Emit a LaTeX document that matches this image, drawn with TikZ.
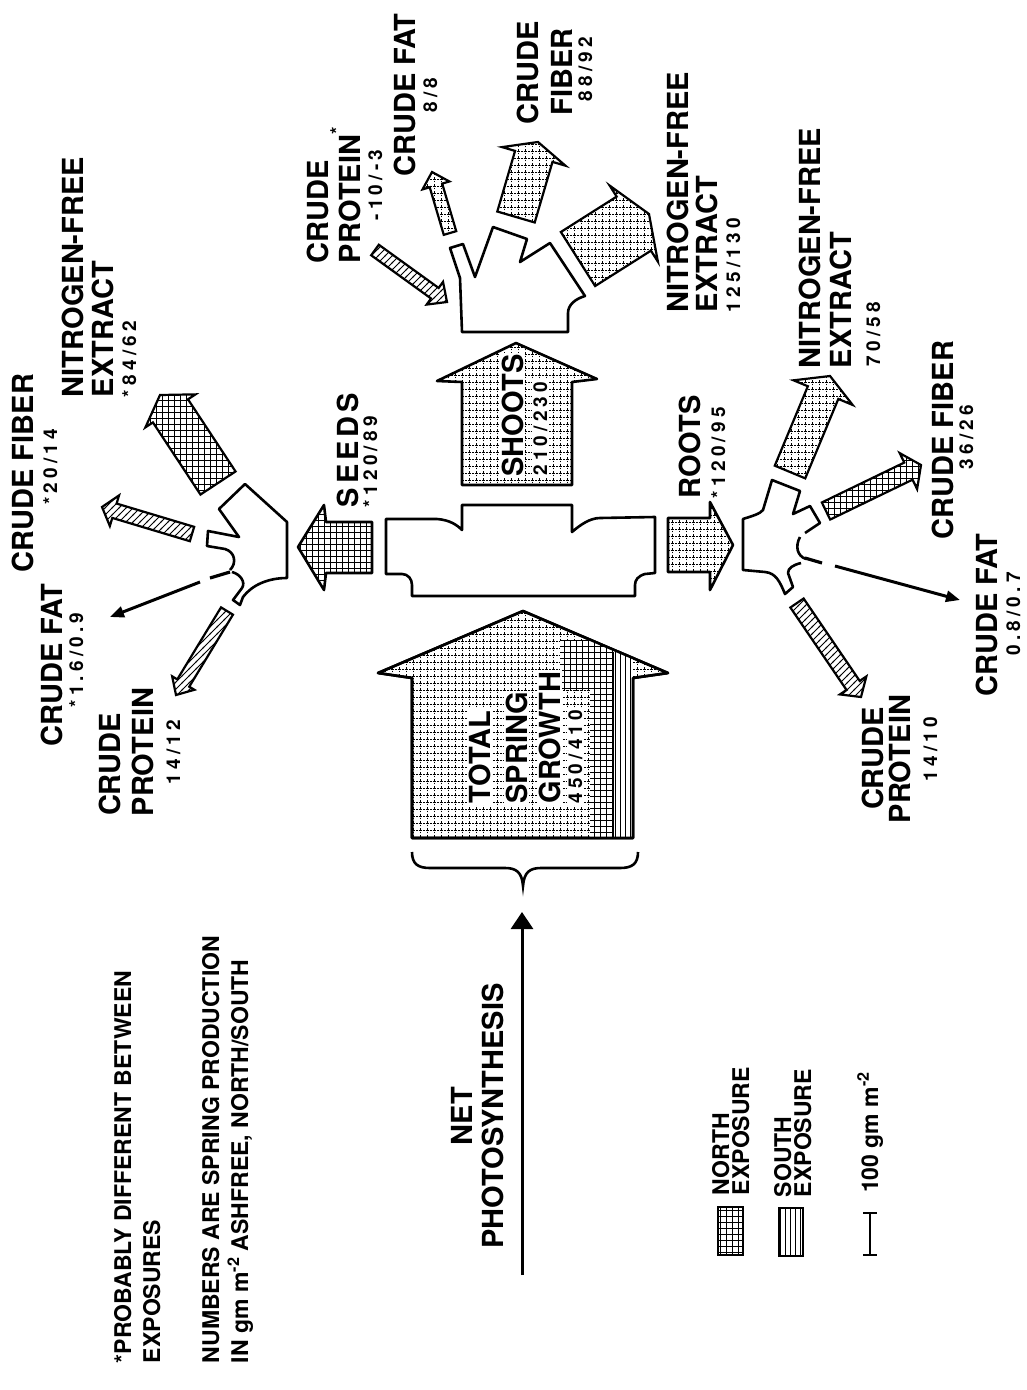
\documentclass[tikz,border=0pt]{standalone}
\usepackage{fontspec}
\setmainfont{TeX Gyre Heros}
\newfontfamily\numfam{TeX Gyre Heros}[LetterSpace=22]
\usetikzlibrary{calc,patterns,arrows.meta}

\pgfdeclarepatternformonly{dotgrid}{\pgfpoint{-2pt}{-2pt}}{\pgfpoint{9pt}{9pt}}{\pgfpoint{7pt}{7pt}}{%
 \pgfsetlinewidth{0.7pt}%
 \pgfpathmoveto{\pgfpoint{-1.5pt}{0pt}}\pgfpathlineto{\pgfpoint{1.5pt}{0pt}}%
 \pgfpathmoveto{\pgfpoint{0pt}{-1.5pt}}\pgfpathlineto{\pgfpoint{0pt}{1.5pt}}%
 \pgfpathmoveto{\pgfpoint{3pt}{0pt}}\pgfpathlineto{\pgfpoint{4.5pt}{0pt}}%
 \pgfpathmoveto{\pgfpoint{0pt}{3.5pt}}\pgfpathlineto{\pgfpoint{0pt}{4.5pt}}%
 \pgfusepath{stroke}}
\pgfdeclarepatternformonly{fgrid}{\pgfpoint{-1pt}{-1pt}}{\pgfpoint{7pt}{7pt}}{\pgfpoint{6pt}{6pt}}{%
 \pgfsetlinewidth{0.8pt}%
 \pgfpathmoveto{\pgfpoint{-1pt}{0pt}}\pgfpathlineto{\pgfpoint{7pt}{0pt}}%
 \pgfpathmoveto{\pgfpoint{0pt}{-1pt}}\pgfpathlineto{\pgfpoint{0pt}{7pt}}%
 \pgfusepath{stroke}}
\pgfdeclarepatternformonly{vlin}{\pgfpoint{-1pt}{-1pt}}{\pgfpoint{1pt}{6pt}}{\pgfpoint{5pt}{5pt}}{%
 \pgfsetlinewidth{0.8pt}\pgfpathmoveto{\pgfpoint{0pt}{-1pt}}\pgfpathlineto{\pgfpoint{0pt}{6pt}}\pgfusepath{stroke}}
\pgfdeclarepatternformonly{diag}{\pgfpoint{-1pt}{-1pt}}{\pgfpoint{8pt}{8pt}}{\pgfpoint{7pt}{7pt}}{%
 \pgfsetlinewidth{0.8pt}\pgfpathmoveto{\pgfpoint{-1pt}{-1pt}}\pgfpathlineto{\pgfpoint{8pt}{8pt}}\pgfusepath{stroke}}

\newcommand\bigf{\fontsize{29}{34}\selectfont\bfseries}
\newcommand\numf{\numfam\fontsize{19}{22}\selectfont\bfseries}
\newcommand\notef{\fontsize{23}{29}\selectfont\bfseries}
\newcommand\legf{\fontsize{23}{20}\selectfont\bfseries}

% #1 name, #2 tail, #3 tip, #4 half shaft width, #5 half head width, #6 head length, #7 pattern
\newcommand\fatarrow[7]{%
 \coordinate (#1t) at (#2);
 \coordinate (#1p) at (#3);
 \coordinate (#1b) at ($(#1p)!#6!(#1t)$);
 \draw[carrow, pattern=#7] ($(#1t)!#4!90:(#1p)$) -- ($(#1b)!#4!90:(#1p)$) -- ($(#1b)!#5!90:(#1p)$) -- (#1p)
   -- ($(#1b)!#5!-90:(#1p)$) -- ($(#1b)!#4!-90:(#1p)$) -- ($(#1t)!#4!-90:(#1p)$) -- cycle;}

\tikzset{
 biglab/.style={rotate=90, inner sep=0pt, outer sep=0pt, font=\bigf},
 numlab/.style={rotate=90, inner sep=0pt, outer sep=0pt, font=\numf},
 notelab/.style={rotate=90, inner sep=0pt, outer sep=0pt, font=\notef, align=left},
 leglab/.style={rotate=90, inner sep=0pt, outer sep=0pt, font=\legf, align=left},
 inlab/.style={fill=white, inner sep=1.5pt},
 outl/.style={line width=2.6pt, line join=round},
 carrow/.style={line width=2.2pt, line join=miter},
 thinarrow/.style={line width=3pt, -{Triangle[length=14pt,width=11pt]}},
}

\begin{document}
\begin{tikzpicture}[x=1pt,y=-1pt]
\useasboundingbox (0,0) rectangle (1026,1390);
\fill[white] (0,0) rectangle (1026,1390);

% ---------- central plant body ----------
\draw[outl] (386,519) -- (437,519) .. controls (450,520) and (457,525) .. (462,530) -- (462,505) -- (572,505)
  -- (572,532) .. controls (580,525) and (590,518) .. (600,518) -- (655,517) -- (655,573) -- (645,574)
  .. controls (638,576) and (635,580) .. (635,585) -- (635,596) -- (412,596) -- (412,585)
  .. controls (412,579) and (408,574) .. (402,574) -- (386,574) -- cycle;

% ---------- total spring growth arrow ----------
\coordinate (tot) at (523,611);
\draw[outl, pattern=dotgrid] (412,838) -- (412,678) -- (378,673) -- (tot) -- (668,673) -- (633,678) -- (633,838) -- cycle;
\begin{scope}
 \clip (412,838) -- (412,678) -- (378,673) -- (523,611) -- (668,673) -- (633,678) -- (633,838) -- cycle;
 \fill[white] (590,650) rectangle (633,840);
 \fill[pattern=fgrid] (590,662) rectangle (613,840);
 \fill[white] (560,640) rectangle (613,690);
 \fill[pattern=fgrid] (560,640) rectangle (613,690);
 \fill[pattern=vlin] (613,650) rectangle (633,840);
\end{scope}
\draw[outl] (412,838) -- (412,678) -- (378,673) -- (tot) -- (668,673) -- (633,678) -- (633,838) -- cycle;
\draw[line width=0.8pt] (613,652) -- (613,838);
\node[biglab, inlab, anchor=base west] (ts1) at (490,805) {TOTAL};
\node[biglab, inlab, anchor=base west] (ts2) at (527,805) {SPRING};
\node[biglab, inlab, anchor=base west] (ts3) at (560,805) {GROWTH};
\node[numlab, inlab, anchor=base west] (ts4) at (582,805) {450/410};

% brace and net photosynthesis
\coordinate (brL) at (412,852); \coordinate (brR) at (638,852); \coordinate (brT) at (523,886);
\draw[line width=2.6pt] (brL) .. controls (412,864) and (418,868) .. (430,868) -- (505,868)
  .. controls (516,868) and (522,872) .. (brT) .. controls (524,872) and (530,868) .. (541,868)
  -- (620,868) .. controls (632,868) and (638,864) .. (brR);
\coordinate (ps0) at (522,1275); \coordinate (ps1) at (522,912);
\draw[line width=3pt, -{Triangle[length=17pt,width=22pt]}] (ps0) -- (ps1);
\node[biglab, anchor=base] (net1) at (472,1116) {NET};
\node[biglab, anchor=base] (net2) at (503,1116) {PHOTOSYNTHESIS};

% ---------- shoots ----------
\coordinate (shtip) at (516,343);
\draw[outl, pattern=dotgrid] (462,485) -- (462,382) -- (437,381) -- (shtip) -- (597,379) -- (572,382) -- (572,485) -- cycle;
\node[biglab, inlab, anchor=base west] (sh1) at (523,478) {SHOOTS};
\node[numlab, inlab, anchor=base west] (sh2) at (547,477) {210/230};

\draw[outl] (462,332) -- (568,332) -- (568,313) .. controls (568,305) and (575,299) .. (585,296) -- (550,243)
  -- (520,262) -- (527,239) -- (493,227) -- (475,277) -- (463,244) -- (450,248) -- (460,278) -- cycle;

\fatarrow{shcp}{375,250}{447,302}{6.5pt}{14pt}{15pt}{diag}
\fatarrow{shcf}{450,233}{432,172}{6.5pt}{14pt}{14pt}{dotgrid}
\fatarrow{shfi}{516,217}{538,142}{19.5pt}{33pt}{15pt}{dotgrid}
\fatarrow{shnf}{578,259}{649,214}{32pt}{45pt}{18pt}{dotgrid}

\node[biglab, anchor=base west] (shl1) at (328,263) {CRUDE};
\node[biglab, anchor=base west] (shl2) at (360,263) {PROTEIN\raisebox{0.55em}{\numf *}};
\node[numlab, anchor=base] (shl3) at (382,185) {-10/-3};
\node[biglab, anchor=base] (shl4) at (415,95) {CRUDE FAT};
\node[numlab, anchor=base] (shl5) at (437,95) {8/8};
\node[biglab, anchor=base] (shl6) at (538,73) {CRUDE};
\node[biglab, anchor=base] (shl7) at (572,72) {FIBER};
\node[numlab, anchor=base] (shl8) at (592,69) {88/92};
\node[biglab, anchor=base west] (shl9) at (688,312) {NITROGEN-FREE};
\node[biglab, anchor=base west] (shl10) at (717,312) {EXTRACT};
\node[numlab, anchor=base west] (shl11) at (740,312) {125/130};

% ---------- seeds ----------
\coordinate (sdtip) at (298,547);
\draw[outl, pattern=fgrid] (372,522) -- (326,522) -- (324,505) -- (sdtip) -- (324,590) -- (326,573) -- (372,573) -- cycle;
\node[biglab, anchor=base west] (sd1) at (358,507) {S\hspace{4pt}E\hspace{4pt}E\hspace{4pt}D\hspace{4pt}S};
\node[numlab, anchor=base west] (sd2) at (377,507) {*120/89};

\draw[outl] (232,572) .. controls (240,574) and (246,582) .. (242,588) -- (233,600) -- (240,605) -- (243,597)
  .. controls (252,585) and (268,578) .. (287,578) -- (287,522) -- (245,484) -- (219,509) -- (239,537)
  -- (208,531) -- (207,546) -- (225,549) .. controls (235,552) and (237,563) .. (230,570);

\fatarrow{sdcp}{227,611}{176,695}{7pt}{13pt}{14pt}{diag}
\fatarrow{sdfi}{192,534}{102,507}{7.5pt}{16pt}{13pt}{diag}
\fatarrow{sdnf}{218,483}{160,395}{21pt}{30pt}{19pt}{fgrid}
\coordinate (sdf0) at (230,572); \coordinate (sdf1) at (210,578);
\draw[line width=3.2pt] (sdf0) -- (sdf1);
\coordinate (sdf2) at (200,582); \coordinate (sdf3) at (110,617);
\draw[thinarrow] (sdf2) -- (sdf3);

\node[biglab, anchor=base east] (sdl1) at (120,713) {CRUDE};
\node[biglab, anchor=base east] (sdl2) at (153,688) {PROTEIN};
\node[numlab, anchor=base east] (sdl3) at (180,720) {14/12};
\node[biglab, anchor=base] (sdl4) at (62,665) {CRUDE FAT};
\node[numlab, anchor=base] (sdl5) at (83,660) {*1.6/0.9};
\node[biglab, anchor=base] (sdl6) at (33,473) {CRUDE FIBER};
\node[numlab, anchor=base] (sdl7) at (57,467) {*20/14};
\node[biglab, anchor=base west] (sdl8) at (83,397) {NITROGEN-FREE};
\node[biglab, anchor=base west] (sdl9) at (113,397) {EXTRACT};
\node[numlab, anchor=base west] (sdl10) at (136,397) {*84/62};

% ---------- roots ----------
\coordinate (rttip) at (733,545);
\draw[outl, pattern=dotgrid] (668,518) -- (710,518) -- (710,502) -- (rttip) -- (710,590) -- (710,572) -- (668,572) -- cycle;
\node[biglab, anchor=base west] (rt1) at (700,498) {ROOTS};
\node[numlab, anchor=base west] (rt2) at (725,498) {*120/95};

\draw[outl] (800,537) .. controls (795,546) and (797,556) .. (806,559);
\draw[outl] (801,563) .. controls (793,565) and (788,568) .. (788,573) -- (793,587) -- (785,594)
  .. controls (780,582) and (776,573) .. (765,572) -- (743,570) -- (743,519)
  .. controls (752,516) and (760,514) .. (763,510) -- (772,480) -- (800,491) -- (793,514) -- (810,506)
  -- (820,523) -- (805,533);

\fatarrow{rtnf}{790,472}{830,376}{16.5pt}{32pt}{18pt}{dotgrid}
\fatarrow{rtfi}{826,511}{921,465}{9.5pt}{20pt}{14pt}{fgrid}
\fatarrow{rtcp}{797,603}{861,697}{8pt}{16pt}{14pt}{diag}
\coordinate (rtf0) at (805,558); \coordinate (rtf1) at (822,563);
\draw[line width=3.2pt] (rtf0) -- (rtf1);
\coordinate (rtf2) at (835,566); \coordinate (rtf3) at (960,600);
\draw[thinarrow] (rtf2) -- (rtf3);

\node[biglab, anchor=base west] (rtl1) at (820,368) {NITROGEN-FREE};
\node[biglab, anchor=base west] (rtl2) at (851,368) {EXTRACT};
\node[numlab, anchor=base west] (rtl3) at (880,366) {70/58};
\node[biglab, anchor=base] (rtl4) at (953,440) {CRUDE FIBER};
\node[numlab, anchor=base] (rtl5) at (973,437) {36/26};
\node[biglab, anchor=base] (rtl6) at (997,615) {CRUDE FAT};
\node[numlab, anchor=base] (rtl7) at (1020,614) {0.8/0.7};
\node[biglab, anchor=base east] (rtl8) at (883,707) {CRUDE};
\node[biglab, anchor=base east] (rtl9) at (910,695) {PROTEIN};
\node[numlab, anchor=base east] (rtl10) at (937,717) {14/10};

% ---------- notes ----------
\node[notelab, anchor=north west] (note1) at (114,1363) {*PROBABLY DIFFERENT BETWEEN\\EXPOSURES};
\node[notelab, anchor=north west] (note2) at (202,1363) {NUMBERS ARE SPRING PRODUCTION\\IN gm m\textsuperscript{-2} ASHFREE, NORTH/SOUTH};

% ---------- legend ----------
\draw[line width=2pt, pattern=fgrid] (718,1207) rectangle (743,1255);
\node[leglab, anchor=north west] (lg1) at (712,1195) {NORTH\\EXPOSURE};
\draw[line width=2pt, pattern=vlin] (779,1208) rectangle (803,1256);
\node[leglab, anchor=north west] (lg2) at (774,1197) {SOUTH\\EXPOSURE};
\coordinate (sb0) at (870,1213); \coordinate (sb1) at (870,1255);
\draw[line width=2.5pt] (sb0) -- (sb1);
\draw[line width=2.5pt] ($(sb0)+(-7,0)$) -- ($(sb0)+(7,0)$);
\draw[line width=2.5pt] ($(sb1)+(-7,0)$) -- ($(sb1)+(7,0)$);
\node[rotate=90, inner sep=0pt, font=\legf, anchor=base west] (lg3) at (878,1193) {100 gm m\textsuperscript{-2}};
\end{tikzpicture}
\end{document}
